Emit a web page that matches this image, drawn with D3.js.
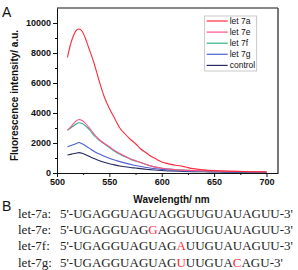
<!DOCTYPE html>
<html>
<head>
<meta charset="utf-8">
<script src="https://cdn.jsdelivr.net/npm/d3@7"></script>
<style>
  body { margin: 0; background: #fff; }
  svg { display: block; }
</style>
</head>
<body>
<div id="chart"></div>
<script>
// wavelengths (nm)
const wl7a = [510, 513, 516, 519, 521, 524, 527, 530, 535, 540, 545, 550, 555, 560, 565, 570, 575, 580, 585, 590, 595, 600, 605, 610, 615, 620, 625, 630, 640, 650, 660, 670, 680, 690, 700];
const let7a = [7700, 8600, 9200, 9550, 9600, 9450, 9000, 8400, 7400, 6200, 5100, 4300, 3650, 3000, 2600, 2250, 1950, 1600, 1350, 1100, 920, 740, 640, 560, 500, 440, 360, 290, 210, 160, 130, 110, 90, 80, 70];

const wl = [510, 514, 518, 521, 524, 528, 532, 536, 540, 545, 550, 555, 560, 565, 570, 575, 580, 585, 590, 600, 610, 620, 630, 640, 650, 660, 670, 680, 690, 700];
const let7e = [2850, 3150, 3450, 3570, 3500, 3250, 2900, 2550, 2250, 1980, 1750, 1500, 1300, 1120, 950, 820, 700, 580, 460, 320, 240, 190, 160, 140, 130, 120, 110, 100, 90, 80];
const let7f = [2850, 3050, 3250, 3350, 3300, 3100, 2800, 2450, 2200, 1950, 1700, 1450, 1250, 1080, 920, 800, 690, 570, 460, 320, 240, 190, 160, 140, 120, 110, 100, 90, 80, 70];
const let7g = [1750, 1850, 1950, 2030, 1950, 1780, 1600, 1420, 1280, 1120, 980, 860, 760, 660, 580, 500, 430, 370, 320, 240, 180, 140, 120, 100, 90, 80, 70, 65, 60, 55];
const ctrl = [1200, 1260, 1320, 1360, 1320, 1200, 1070, 950, 840, 720, 620, 540, 470, 420, 370, 330, 290, 250, 220, 170, 130, 110, 90, 80, 70, 60, 55, 50, 45, 40];

const seriesNames = ['let 7a', 'let 7e', 'let 7f', 'let 7g', 'control'];
const seriesColors = ['#ff2a3c', '#ff4f8f', '#33b08a', '#4f5fd0', '#262a60'];

const xTicks = [500, 550, 600, 650, 700];
const yTicks = [0, 2000, 4000, 6000, 8000, 10000];

// panel B sequences: label, sequence, indexes of mismatched bases (in red)
const seqLabels = ['let-7a:', 'let-7e:', 'let-7f:', 'let-7g:'];
const seqTexts = ["5'-UGAGGUAGUAGGUUGUAUAGUU-3'", "5'-UGAGGUAGGAGGUUGUAUAGUU-3'", "5'-UGAGGUAGUAGAUUGUAUAGUU-3'", "5'-UGAGGUAGUAGUUUGUACAGU-3'"];
const seqRed = [[], [11], [14], [14, 20]];

const W = 298, H = 270;
const margin = { top: 8, right: 20, bottom: 97, left: 57 };
const width = W - margin.left - margin.right;
const height = H - margin.top - margin.bottom;

const svg = d3.select('#chart').append('svg')
    .attr('width', W)
    .attr('height', H);

const g = svg.append('g')
    .attr('transform', `translate(${margin.left},${margin.top})`);

const x = d3.scaleLinear().domain([500, 711]).range([0, width]);
const y = d3.scaleLinear().domain([0, 11000]).range([height, 0]);

// frame top/right
g.append('line').attr('x1', 0).attr('x2', width).attr('y1', 0).attr('y2', 0)
    .attr('stroke', '#111').attr('stroke-width', 1);
g.append('line').attr('x1', width).attr('x2', width).attr('y1', 0).attr('y2', height)
    .attr('stroke', '#555').attr('stroke-width', 1.6);

// minor ticks
const xMinor = d3.range(525, 711, 50);
const yMinor = d3.range(1000, 11000, 2000);

g.append('g')
    .attr('transform', `translate(0,${height})`)
    .call(d3.axisBottom(x).tickValues(xTicks).tickSize(4).tickPadding(2).tickSizeOuter(0).tickFormat(d3.format('d')));
g.append('g')
    .attr('transform', `translate(0,${height})`)
    .call(d3.axisBottom(x).tickValues(xMinor).tickSize(2).tickFormat('').tickSizeOuter(0))
    .select('.domain').remove();

g.append('g')
    .call(d3.axisLeft(y).tickValues(yTicks).tickSize(4).tickPadding(2).tickSizeOuter(0).tickFormat(d3.format('d')));
g.append('g')
    .call(d3.axisLeft(y).tickValues(yMinor).tickSize(2).tickFormat('').tickSizeOuter(0))
    .select('.domain').remove();

svg.selectAll('.tick text')
    .style('font-family', 'Liberation Sans, Arial, sans-serif')
    .style('font-size', '9px')
    .style('font-weight', 'bold')
    .attr('fill', '#111');
svg.selectAll('.domain, .tick line').attr('stroke', '#111');

// curves
const line = d3.line()
    .x(d => x(d[0]))
    .y(d => y(d[1]))
    .curve(d3.curveMonotoneX);

const series = [
    wl7a.map((w, i) => [w, let7a[i]]),
    wl.map((w, i) => [w, let7e[i]]),
    wl.map((w, i) => [w, let7f[i]]),
    wl.map((w, i) => [w, let7g[i]]),
    wl.map((w, i) => [w, ctrl[i]])
];

// draw control first so the coloured curves sit on top
[4, 3, 2, 1, 0].forEach(i => {
    g.append('path')
        .datum(series[i])
        .attr('fill', 'none')
        .attr('stroke', seriesColors[i])
        .attr('stroke-width', 1.1)
        .attr('d', line);
});

// legend
const legend = g.append('g').attr('transform', `translate(${x(641)}, 8)`);
legend.append('rect')
    .attr('width', 52).attr('height', 55)
    .attr('fill', '#fff')
    .attr('stroke', '#bbb')
    .attr('stroke-width', 0.8);
seriesNames.forEach((name, i) => {
    const row = legend.append('g').attr('transform', `translate(0, ${5 + i * 11.1})`);
    row.append('line')
        .attr('x1', 2).attr('x2', 23)
        .attr('stroke', seriesColors[i])
        .attr('stroke-width', 1.2);
    row.append('text')
        .attr('x', 25)
        .attr('dy', '0.35em')
        .style('font-family', 'Liberation Sans, Arial, sans-serif')
        .style('font-size', '8.5px')
        .attr('fill', '#111')
        .text(name);
});

// axis titles
svg.append('text')
    .attr('transform', `translate(18, ${margin.top + height / 2 + 5}) rotate(-90)`)
    .attr('text-anchor', 'middle')
    .style('font-family', 'Liberation Sans, Arial, sans-serif')
    .style('font-size', '10px')
    .style('font-weight', 'bold')
    .attr('fill', '#111')
    .text('Fluorescence intensity/ a.u.');

svg.append('text')
    .attr('x', margin.left + width / 2 + 4)
    .attr('y', 203)
    .attr('text-anchor', 'middle')
    .style('font-family', 'Liberation Sans, Arial, sans-serif')
    .style('font-size', '10px')
    .style('font-weight', 'bold')
    .attr('fill', '#111')
    .text('Wavelength/ nm');

// panel letters
svg.append('text').attr('x', 2).attr('y', 17)
    .style('font-family', 'Liberation Sans, Arial, sans-serif')
    .style('font-size', '14px').attr('fill', '#111').text('A');
svg.append('text').attr('x', 2).attr('y', 211)
    .style('font-family', 'Liberation Sans, Arial, sans-serif')
    .style('font-size', '14px').attr('fill', '#111').text('B');

// panel B sequences
seqLabels.forEach((lab, i) => {
    const yy = 218 + i * 16.2;
    svg.append('text')
        .attr('x', 18).attr('y', yy)
        .style('font-family', 'Liberation Serif, Times New Roman, serif')
        .style('font-size', '13px')
        .attr('fill', '#222')
        .text(lab);
    const t = svg.append('text')
        .attr('x', 60).attr('y', yy)
        .style('font-family', 'Liberation Serif, Times New Roman, serif')
        .style('font-size', '13px')
        .attr('fill', '#222');
    let buf = '';
    seqTexts[i].split('').forEach((c, k) => {
        if (seqRed[i].includes(k)) {
            if (buf) t.append('tspan').text(buf);
            buf = '';
            t.append('tspan').attr('fill', '#ff2a3c').text(c);
        } else {
            buf += c;
        }
    });
    if (buf) t.append('tspan').text(buf);
});
</script>
</body>
</html>
